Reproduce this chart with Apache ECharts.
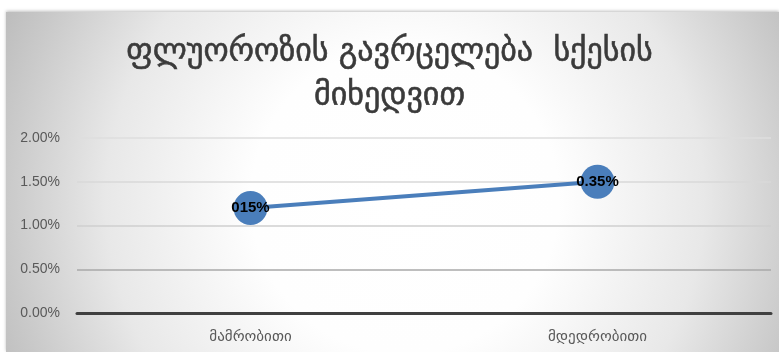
<!DOCTYPE html>
<html>
<head>
<meta charset="utf-8">
<script src="https://cdn.jsdelivr.net/npm/echarts@6/dist/echarts.min.js"></script>
<style>
  html, body { margin: 0; padding: 0; background: #ffffff; }
  #chart { width: 779px; height: 352px; }
</style>
</head>
<body>
<div id="chart"></div>
<script>
// Fluorosis prevalence by sex
const titleText = 'ფლუოროზის გავრცელება  სქესის\nმიხედვით';
const categories = ['მამრობითი', 'მდედრობითი'];
const prevalence = [1.2, 1.5];            // percent
const pointLabels = ['015%', '0.35%'];    // label text shown on each point
const yTicks = { min: 0, max: 2, interval: 0.5 };

const chart = echarts.init(document.getElementById('chart'), null, { renderer: 'canvas' });

chart.setOption({
  animation: false,
  graphic: [
    {
      type: 'rect',
      z: -10,
      shape: { x: 6, y: 12, width: 773, height: 340 },
      style: {
        // global (pixel) coordinates: wide white centre fading to grey edges
        fill: new echarts.graphic.RadialGradient(405, 200, 440, [
          { offset: 0, color: '#ffffff' },
          { offset: 0.35, color: '#fefefe' },
          { offset: 0.68, color: '#e8e8e8' },
          { offset: 0.9, color: '#cacaca' },
          { offset: 1, color: '#bdbdbd' }
        ], true),
        shadowBlur: 3,
        shadowColor: 'rgba(0,0,0,0.25)',
        shadowOffsetY: -1
      }
    }
  ],
  title: {
    text: titleText,
    left: 'center',
    top: 26,
    textStyle: {
      fontFamily: "'DejaVu Sans'",
      fontSize: 32,
      fontWeight: 'normal',
      color: '#3a3a3a',
      lineHeight: 44,
      textBorderColor: '#3a3a3a',
      textBorderWidth: 0.6
    }
  },
  grid: { left: 77, right: 8, top: 138, bottom: 39, containLabel: false },
  xAxis: {
    type: 'category',
    data: categories,
    boundaryGap: true,
    axisLine: { show: true, lineStyle: { color: '#404040', width: 3 } },
    axisTick: { show: false },
    axisLabel: {
      margin: 17,
      fontFamily: "'DejaVu Sans'",
      fontSize: 15,
      color: '#595959'
    }
  },
  yAxis: {
    type: 'value',
    min: yTicks.min,
    max: yTicks.max,
    interval: yTicks.interval,
    axisLine: { show: false },
    axisTick: { show: false },
    axisLabel: {
      margin: 17,
      fontFamily: "'Liberation Sans'",
      fontSize: 14,
      color: '#595959',
      formatter: v => v.toFixed(2) + '%'
    },
    splitLine: {
      show: true,
      lineStyle: {
        color: ['#7f7f7f', '#a8a8a8', '#cfcfcf', '#d9d9d9', '#dedede'],
        width: 1.5
      }
    }
  },
  series: [
    {
      type: 'line',
      data: prevalence,
      symbol: 'circle',
      symbolSize: 34,
      itemStyle: { color: '#4a7ebb' },
      lineStyle: { color: '#4a7ebb', width: 4 },
      label: {
        show: true,
        position: 'inside',
        fontFamily: "'Liberation Sans'",
        fontWeight: 'bold',
        fontSize: 15,
        color: '#000000',
        formatter: p => pointLabels[p.dataIndex]
      }
    }
  ]
});
</script>
</body>
</html>
